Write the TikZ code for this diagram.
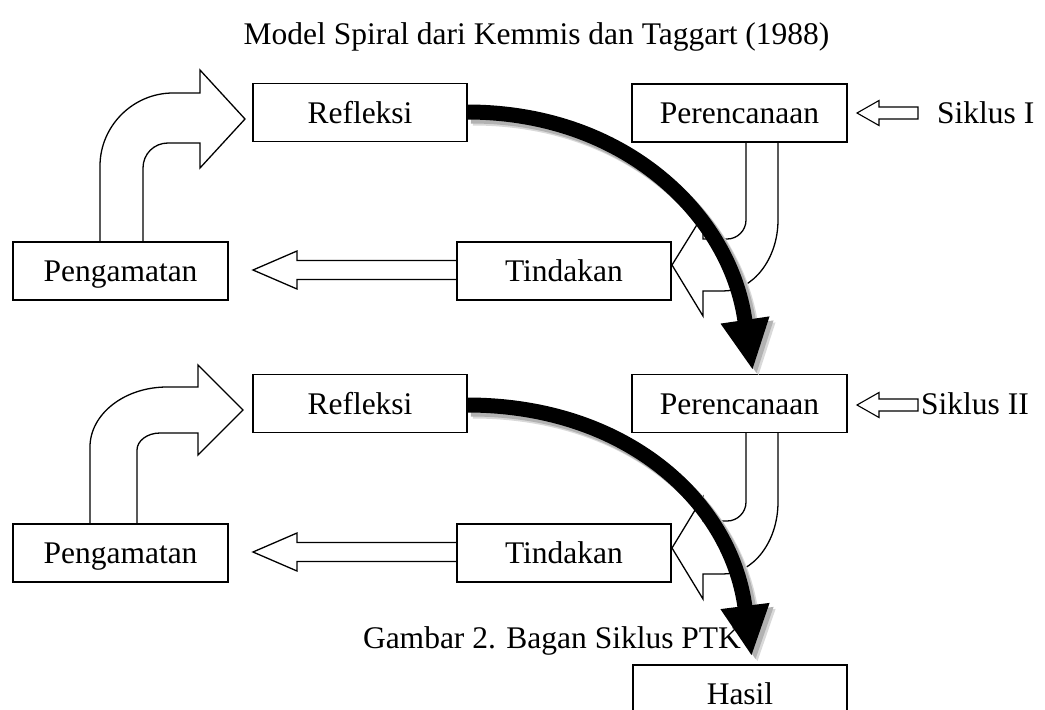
\documentclass[tikz,border=0pt]{standalone}
\usepackage{fontspec}
\setmainfont{Liberation Serif}
\begin{document}
\begin{tikzpicture}[x=1pt,y=-1pt,
  lbl/.style={font=\fontsize{31.5}{36}\selectfont, text height=21pt, text depth=0pt, inner sep=0pt},
  boxn/.style={lbl, draw, fill=white, line width=1.3pt, minimum width=214pt, minimum height=58pt},
  hollow/.style={draw, fill=white, line width=1.3pt, line join=miter},
  shaft/.style={line width=15pt},
  shadowc/.style={gray!60},
  shadowl/.style={gray!30}]
\useasboundingbox (0,0) rectangle (1045,710);
\fill[white] (0,0) rectangle (1045,710);

% texts
\node[lbl, anchor=base] (title) at (536.5,44) {Model Spiral dari Kemmis dan Taggart (1988)};
\node[lbl, anchor=base] (cap) at (552,648) {Gambar 2. Bagan Siklus PTK};

% hollow curved arrows Pengamatan -> Refleksi
\draw[hollow] (100,242) -- (100,166) .. controls (100,126) and (133,93) .. (173,93) -- (200,93) -- (200,70) -- (245,119) -- (200,168) -- (200,143) -- (168,143) .. controls (154,143) and (143,154) .. (143,168) -- (143,242);
\draw[hollow] (90,524) -- (90,447) .. controls (90,414) and (124.5,387) .. (167,387) -- (198,387) -- (198,365) -- (243,410) -- (198,455) -- (198,433) -- (160,433) .. controls (147,433) and (137,441) .. (137,450) -- (137,524);

% hollow straight arrows Tindakan -> Pengamatan
\draw[hollow] (457,260.5) -- (297,260.5) -- (297,251) -- (253,270) -- (297,289) -- (297,279.5) -- (457,279.5);
\draw[hollow] (457,542.5) -- (297,542.5) -- (297,533) -- (253,552) -- (297,571) -- (297,561.5) -- (457,561.5);

% hollow bent arrows Perencanaan -> Tindakan
\draw[hollow] (746,142) -- (746,220) .. controls (746,230.5) and (737.5,239) .. (727,239) -- (703,239) -- (703,215) -- (672,265) -- (703,316) -- (703,291) -- (723,291) .. controls (753,291) and (778,259) .. (778,220) -- (778,142);
\draw[hollow] (746,432) -- (746,502) .. controls (746,512.5) and (737.5,521) .. (727,521) -- (703,521) -- (703,497) -- (672,548) -- (703,599) -- (703,574) -- (723,574) .. controls (753,574) and (778,542) .. (778,502) -- (778,432);

% boxes
\node[boxn] (ref1) at (360,112.5) {Refleksi};
\node[boxn, minimum width=215pt] (per1) at (739.5,113) {Perencanaan};
\node[boxn, minimum width=215pt] (pen1) at (120.5,271) {Pengamatan};
\node[boxn] (tin1) at (564,271) {Tindakan};
\node[boxn] (ref2) at (360,403.5) {Refleksi};
\node[boxn, minimum width=215pt] (per2) at (739.5,403.5) {Perencanaan};
\node[boxn, minimum width=215pt] (pen2) at (120.5,553) {Pengamatan};
\node[boxn] (tin2) at (564,553) {Tindakan};
\node[boxn] (has) at (740,694) {Hasil};

% siklus labels and arrows
\node[lbl, anchor=base west] (sik1) at (937,123.5) {Siklus I};
\node[lbl, anchor=base west] (sik2) at (921,414) {Siklus II};
\draw[hollow, line width=1.1pt] (857,113) -- (879,100.5) -- (879,107) -- (918,107) -- (918,119) -- (879,119) -- (879,125.5) -- cycle;
\draw[hollow, line width=1.1pt] (857,405) -- (879,392.5) -- (879,399) -- (918,399) -- (918,411) -- (879,411) -- (879,417.5) -- cycle;

% black curved arrows with shadow
\begin{scope}[shift={(6,6)}]
  \draw[shaft, shadowl] (467,112) .. controls (625,112) and (730,215) .. (745,321);
  \fill[shadowl] (720.5,323.6) -- (752.5,369) -- (769.5,316.4) -- cycle;
  \draw[shaft, shadowl] (467,405) .. controls (625,405) and (730,500) .. (745,607);
  \fill[shadowl] (720.4,609.1) -- (751.5,655) -- (769.6,602.9) -- cycle;
\end{scope}
\begin{scope}[shift={(4,4)}]
  \draw[shaft, shadowc] (467,112) .. controls (625,112) and (730,215) .. (745,321);
  \fill[shadowc] (720.5,323.6) -- (752.5,369) -- (769.5,316.4) -- cycle;
  \draw[shaft, shadowc] (467,405) .. controls (625,405) and (730,500) .. (745,607);
  \fill[shadowc] (720.4,609.1) -- (751.5,655) -- (769.6,602.9) -- cycle;
\end{scope}
\draw[shaft, black] (467,112) .. controls (625,112) and (730,215) .. (745,321);
\fill[black] (720.5,323.6) -- (752.5,369) -- (769.5,316.4) -- cycle;
\draw[shaft, black] (467,405) .. controls (625,405) and (730,500) .. (745,607);
\fill[black] (720.4,609.1) -- (751.5,655) -- (769.6,602.9) -- cycle;
\end{tikzpicture}
\end{document}
